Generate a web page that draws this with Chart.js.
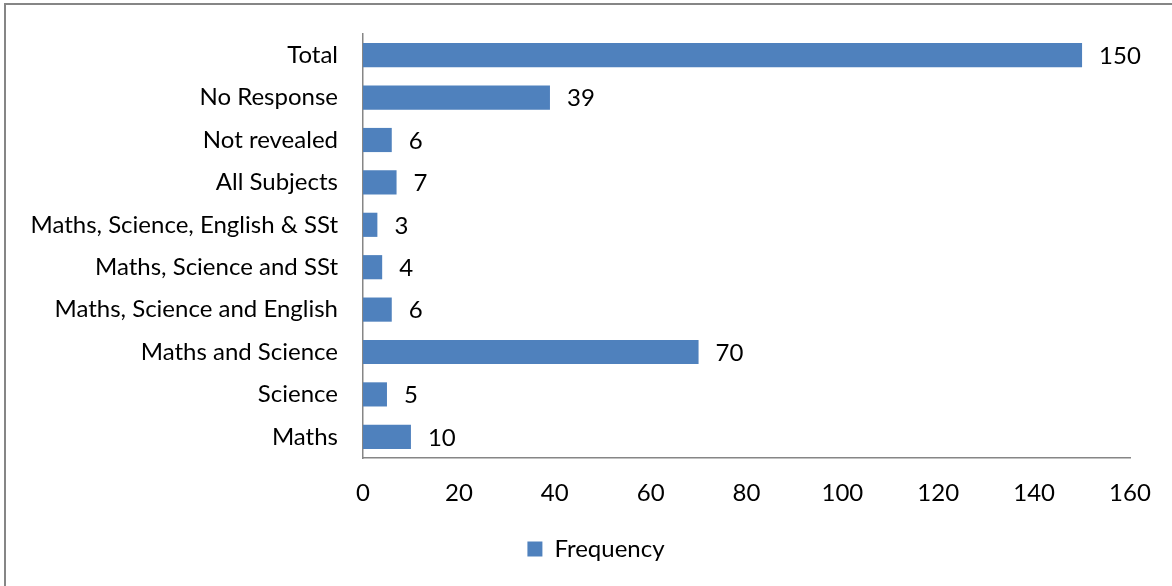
<!DOCTYPE html>
<html>
<head>
<meta charset="utf-8">
<script src="https://cdn.jsdelivr.net/npm/chart.js@4"></script>
<style>
  html, body { margin: 0; padding: 0; background: #fff; }
  #wrap { position: relative; width: 1172px; height: 586px; }
</style>
</head>
<body>
<div id="wrap"><canvas id="freqChart" width="1172" height="586"></canvas></div>
<script>
// categories, top to bottom as in the picture
const categories = [
  "Total",
  "No Response",
  "Not revealed",
  "All Subjects",
  "Maths, Science, English & SSt",
  "Maths, Science and SSt",
  "Maths, Science and English",
  "Maths and Science",
  "Science",
  "Maths"
];
const frequency = [150, 39, 6, 7, 3, 4, 6, 70, 5, 10];
const seriesName = "Frequency";
const xMax = 160;
const xStep = 20;

const FONT = "Lato, 'Open Sans', sans-serif";
const FONT_SIZE = 24;

// outer frame of the picture
const framePlugin = {
  id: "frame",
  beforeDraw(chart) {
    const ctx = chart.ctx;
    ctx.save();
    ctx.strokeStyle = "#868686";
    ctx.lineWidth = 2;
    ctx.strokeRect(5, 4, chart.width + 20, chart.height + 20);
    ctx.restore();
  }
};

// legend sits a bit right of the canvas centre in the original
const legendShift = {
  id: "legendShift",
  afterLayout(chart) {
    chart.legend.left += 21;
    chart.legend.right += 21;
  }
};

// value labels at the end of each bar
const valueLabels = {
  id: "valueLabels",
  afterDatasetsDraw(chart) {
    const ctx = chart.ctx;
    ctx.save();
    ctx.font = FONT_SIZE + "px " + FONT;
    ctx.fillStyle = "#000";
    ctx.textAlign = "left";
    ctx.textBaseline = "middle";
    chart.getDatasetMeta(0).data.forEach((bar, i) => {
      ctx.fillText(String(chart.data.datasets[0].data[i]), bar.x + 17, bar.y + 1);
    });
    ctx.restore();
  }
};

const ctx = document.getElementById("freqChart").getContext("2d");
const freqChart = new Chart(ctx, {
  type: "bar",
  data: {
    labels: categories,
    datasets: [
      {
        label: seriesName,
        data: frequency,
        backgroundColor: "#4F81BD",
        borderWidth: 0,
        barPercentage: 0.57,
        categoryPercentage: 1
      }
    ]
  },
  options: {
    indexAxis: "y",
    responsive: false,
    animation: false,
    layout: { padding: { top: 34, right: 42, bottom: 15, left: 20 } },
    plugins: {
      legend: {
        position: "bottom",
        labels: {
          boxWidth: 15,
          boxHeight: 15,
          color: "#000",
          font: { family: FONT, size: FONT_SIZE }
        }
      },
      tooltip: { enabled: false }
    },
    scales: {
      x: {
        min: 0,
        max: xMax,
        grid: { display: false, drawTicks: false },
        border: { display: true, color: "#868686", width: 1.5 },
        ticks: {
          stepSize: xStep,
          padding: 21,
          color: "#000",
          font: { family: FONT, size: FONT_SIZE }
        },
        afterFit(scale) { scale.height = 69; }
      },
      y: {
        // invisible tick marks give the gap between labels and axis
        grid: {
          display: true,
          drawOnChartArea: false,
          drawTicks: true,
          tickLength: 25,
          color: "rgba(0,0,0,0)"
        },
        border: { display: true, color: "#868686", width: 1.5 },
        ticks: {
          padding: 0,
          color: "#000",
          font: { family: FONT, size: FONT_SIZE }
        },
        afterFit(scale) { scale.width = 343; }
      }
    }
  },
  plugins: [framePlugin, legendShift, valueLabels]
});
</script>
</body>
</html>
